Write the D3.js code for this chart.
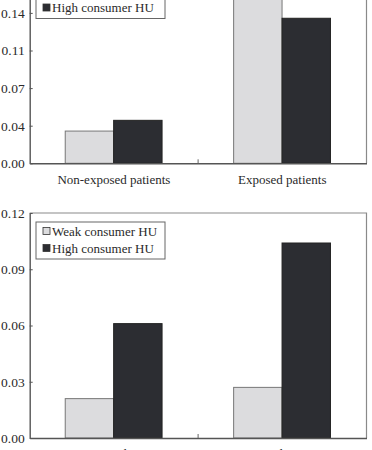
<!DOCTYPE html>
<html lang="en">
<head>
<meta charset="UTF-8">
<title>HU consumers</title>
<style>
  body { margin: 0; background: #fff; }
  svg { display: block; }
  text { font-family: "Liberation Serif", "Times New Roman", serif; fill: #2a2a2a; }
  .axis path, .axis line { stroke: #555; }
</style>
</head>
<body>
<svg id="chart"></svg>
<script src="https://cdn.jsdelivr.net/npm/d3@7/dist/d3.min.js"></script>
<script>
// categories and series
var categories = ["Non-exposed patients", "Exposed patients"];
var series = ["Weak consumer HU", "High consumer HU"];
var colors = ["#dcdcde", "#2c2d32"];

// top panel (cut at the top in the picture)
var topWeak = [0.030, 0.165];
var topHigh = [0.040, 0.135];
var topTicks = [0, 0.035, 0.07, 0.105, 0.14];
var topTickLabels = ["0.00", "0.04", "0.07", "0.11", "0.14"];

// bottom panel
var botWeak = [0.021, 0.027];
var botHigh = [0.061, 0.104];
var botTicks = [0, 0.03, 0.06, 0.09, 0.12];
var botTickLabels = ["0.00", "0.03", "0.06", "0.09", "0.12"];

var w = 372, h = 450;
var svg = d3.select("#chart").attr("width", w).attr("height", h);

var left = 29.7, right = 366.5;

drawPanel({weak: topWeak, high: topHigh, ticks: topTicks, labels: topTickLabels,
  max: 0.175, base: 163.3, top: -24.7, legendY: -18.5});
drawPanel({weak: botWeak, high: botHigh, ticks: botTicks, labels: botTickLabels,
  max: 0.12, base: 438, top: 213, legendY: 222});

function drawPanel(p) {
  var g = svg.append("g");

  var x = d3.scaleBand().domain(categories).range([left, right]);
  var bw = x.bandwidth();
  var xs = d3.scaleBand().domain(series).range([bw * 0.211, bw * 0.786]);
  var y = d3.scaleLinear().domain([0, p.max]).range([p.base, p.top]);

  // frame (top and right)
  g.append("path")
    .attr("d", "M" + left + "," + p.top + "H" + right + "V" + p.base)
    .attr("fill", "none").attr("stroke", "#8a8a8a").attr("stroke-width", 1.2);

  // bars
  var rows = categories.map(function(c, i) {
    return [{cat: c, s: series[0], v: p.weak[i]}, {cat: c, s: series[1], v: p.high[i]}];
  });
  g.selectAll("g.grp").data(rows).enter().append("g")
    .attr("class", "grp")
    .attr("transform", function(d) { return "translate(" + x(d[0].cat) + ",0)"; })
    .selectAll("rect").data(function(d) { return d; }).enter().append("rect")
    .attr("x", function(d) { return xs(d.s); })
    .attr("y", function(d) { return y(d.v); })
    .attr("width", xs.bandwidth())
    .attr("height", function(d) { return y(0) - y(d.v); })
    .attr("fill", function(d, i) { return colors[i]; })
    .attr("stroke", function(d, i) { return i ? "#222" : "#777"; })
    .attr("stroke-width", 1);

  // y axis
  var yAxis = d3.axisLeft(y).tickValues(p.ticks)
    .tickFormat(function(d, i) { return p.labels[i]; })
    .tickSizeInner(-3).tickSizeOuter(0).tickPadding(5);
  g.append("g").attr("class", "axis")
    .attr("transform", "translate(" + left + ",0)")
    .call(yAxis)
    .call(function(a) {
      a.select(".domain").attr("stroke-width", 1.4);
      a.selectAll("text").attr("font-size", "13.5px");
    });

  // x axis
  var xAxis = d3.axisBottom(x).tickSize(0).tickPadding(11);
  g.append("g").attr("class", "axis")
    .attr("transform", "translate(0," + p.base + ")")
    .call(xAxis)
    .call(function(a) {
      a.select(".domain").attr("stroke-width", 1.4);
      a.selectAll("text").attr("font-size", "13px");
    });

  // divider tick between the categories
  g.append("line")
    .attr("x1", x(categories[1])).attr("x2", x(categories[1]))
    .attr("y1", p.base).attr("y2", p.base - 4)
    .attr("stroke", "#666").attr("stroke-width", 1);

  // legend
  var lg = g.append("g").attr("transform", "translate(36," + p.legendY + ")");
  lg.append("rect").attr("width", 129).attr("height", 37)
    .attr("fill", "#fff").attr("stroke", "#666").attr("stroke-width", 1);
  series.forEach(function(s, i) {
    var row = lg.append("g").attr("transform", "translate(0," + (9 + i * 17) + ")");
    row.append("rect").attr("x", 7).attr("y", -3.5).attr("width", 7).attr("height", 7)
      .attr("fill", colors[i]).attr("stroke", "#333").attr("stroke-width", 0.8);
    row.append("text").attr("x", 16).attr("y", 4.5)
      .attr("font-size", "13px").text(s);
  });
}
</script>
</body>
</html>
